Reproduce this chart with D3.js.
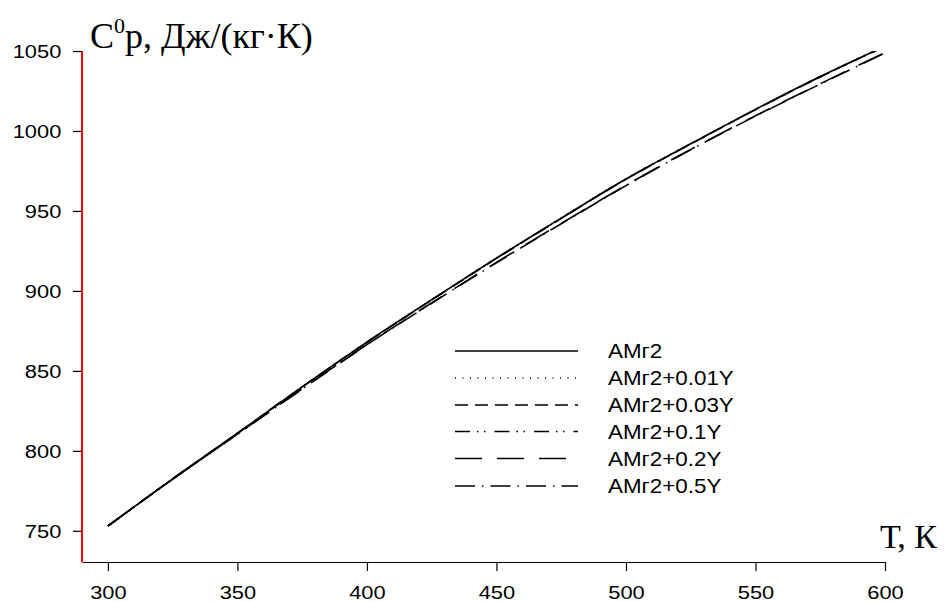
<!DOCTYPE html>
<html>
<head>
<meta charset="utf-8">
<script src="https://cdn.jsdelivr.net/npm/d3@7"></script>
<style>
  html, body { margin: 0; padding: 0; background: #fff; }
  svg { display: block; }
</style>
</head>
<body>
<svg id="chart" width="951" height="602"></svg>
<script>
// ---------- data ----------
const temps = [300, 325, 350, 375, 400, 425, 450, 475, 500, 525, 550, 575, 600];
const amg2      = [753, 782.5, 811, 840, 868, 894.5, 920.5, 945.5, 970, 992, 1013.5, 1034, 1053];
const amg2_001Y = [753, 782.5, 811, 840, 868, 894.6, 920.6, 945.6, 970.1, 992.1, 1013.6, 1034.1, 1053.1];
const amg2_003Y = [753, 782.4, 810.9, 839.9, 867.8, 894.3, 920.3, 945.3, 969.8, 991.8, 1013.3, 1033.8, 1052.8];
const amg2_01Y  = [753, 782.5, 811, 840, 867.9, 894.4, 920.4, 945.4, 969.9, 991.9, 1013.4, 1033.9, 1052.9];
const amg2_02Y  = [753, 782.3, 810.5, 838.8, 866.5, 892.5, 917.8, 942.2, 966, 988.5, 1009.5, 1029.5, 1049];
const amg2_05Y  = [753, 782.2, 810.4, 838.6, 866.3, 892.3, 917.6, 942, 965.8, 988.3, 1009.3, 1029.3, 1048.8];
const seriesNames = ["АМг2", "АМг2+0.01Y", "АМг2+0.03Y", "АМг2+0.1Y", "АМг2+0.2Y", "АМг2+0.5Y"];
const xTicks = [300, 350, 400, 450, 500, 550, 600];
const yTicks = [750, 800, 850, 900, 950, 1000, 1050];
const yTitle = ["C", "0", "p, Дж/(кг·К)"];
const xTitle = "Т, К";

// ---------- styles ----------
const dashes = [null, "1,6.5", "13,7", "15,7,1.5,5.5,1.5,9", "27,15", "20,7,1.5,7"];
const allValues = [amg2, amg2_001Y, amg2_003Y, amg2_01Y, amg2_02Y, amg2_05Y];

const svg = d3.select("#chart");
const x = d3.scaleLinear().domain([290, 600]).range([82, 885]);
const y = d3.scaleLinear().domain([730.5, 1050]).range([562, 51]);

// clip
svg.append("defs").append("clipPath").attr("id", "plotclip")
  .append("rect").attr("x", 82).attr("y", 51).attr("width", 885 - 82).attr("height", 562 - 51);

// x axis
const xAxis = svg.append("g").attr("transform", "translate(0,562)")
  .call(d3.axisBottom(x).tickValues(xTicks).tickSize(9).tickSizeOuter(0).tickFormat(d3.format("d")));
xAxis.select(".domain").attr("stroke", "#000").attr("stroke-width", 1.2);
xAxis.selectAll(".tick line").attr("stroke", "#000").attr("stroke-width", 1.2);
xAxis.selectAll(".tick text")
  .attr("y", 37).attr("dy", 0)
  .attr("font-family", "'Liberation Sans', Arial, sans-serif")
  .attr("font-size", 19).attr("fill", "#000")
  .attr("transform", "scale(1.15,1)");

// y axis
const yAxis = svg.append("g").attr("transform", "translate(82,0)")
  .call(d3.axisLeft(y).tickValues(yTicks).tickSize(9).tickSizeOuter(0).tickFormat(d3.format("d")));
yAxis.select(".domain").attr("stroke", "#ff0000").attr("stroke-width", 2)
  .attr("d", `M0,${y(1050)}V562`);
yAxis.selectAll(".tick line").attr("stroke", "#000").attr("stroke-width", 1.2);
yAxis.selectAll(".tick text")
  .attr("x", -18).attr("dy", "0.36em")
  .attr("font-family", "'Liberation Sans', Arial, sans-serif")
  .attr("font-size", 19).attr("fill", "#000")
  .attr("transform", "scale(1.15,1)");

// lines
const line = d3.line().x((d, i) => x(temps[i])).y(d => y(d)).curve(d3.curveMonotoneX);
const plot = svg.append("g").attr("clip-path", "url(#plotclip)");
allValues.forEach((vals, i) => {
  plot.append("path").attr("d", line(vals))
    .attr("fill", "none").attr("stroke", "#000").attr("stroke-width", 1.6)
    .attr("stroke-dasharray", dashes[i]);
});

// legend
const lg = svg.append("g");
const rowY = [351, 378, 405, 431.5, 458.5, 486];
seriesNames.forEach((name, i) => {
  lg.append("line").attr("x1", 455).attr("x2", 578).attr("y1", rowY[i]).attr("y2", rowY[i])
    .attr("stroke", "#000").attr("stroke-width", 1.6).attr("stroke-dasharray", dashes[i]);
  lg.append("text").attr("transform", `translate(608,${rowY[i] + 7}) scale(1.12,1)`)
    .attr("font-family", "'Liberation Sans', Arial, sans-serif").attr("font-size", 20)
    .attr("fill", "#000").text(name);
});

// titles
const yt = svg.append("text").attr("x", 90).attr("y", 48)
  .attr("font-family", "'Liberation Serif', 'Times New Roman', serif").attr("font-size", 36).attr("fill", "#000");
yt.append("tspan").text(yTitle[0]);
yt.append("tspan").attr("font-size", 22).attr("dy", -15).text(yTitle[1]);
yt.append("tspan").attr("dy", 15).text(yTitle[2]);

svg.append("text").attr("x", 880).attr("y", 548)
  .attr("font-family", "'Liberation Serif', 'Times New Roman', serif").attr("font-size", 34)
  .attr("fill", "#000").text(xTitle);
</script>
</body>
</html>
